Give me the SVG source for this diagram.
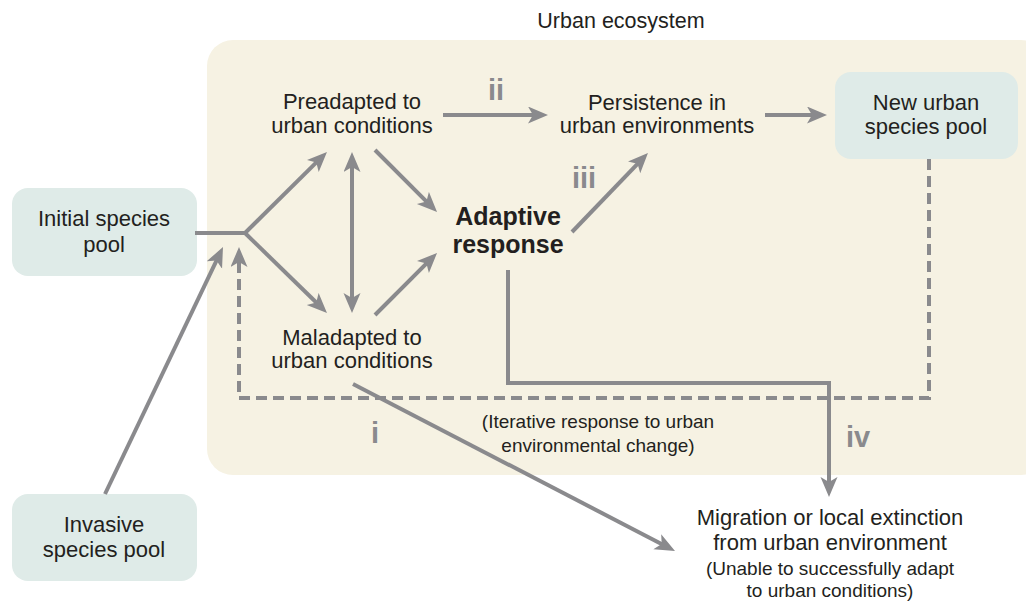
<svg xmlns="http://www.w3.org/2000/svg" width="1026" height="601" viewBox="0 0 1026 601">
<style>
text{font-family:"Liberation Sans",Arial,sans-serif;fill:#231f20;text-anchor:middle}
.lbl{font-size:22px}
.sm{font-size:19px}
.bold{font-size:25px;font-weight:bold}
.num{font-size:29px;font-weight:bold;fill:#8a8a8d}
.pool{fill:#dfebe8}
.ln{fill:none;stroke:#8a8a8d;stroke-width:4}
.dash{stroke-dasharray:11 6}
</style>
<defs>
<marker id="ah" markerUnits="userSpaceOnUse" markerWidth="22" markerHeight="18" refX="14" refY="8.5" orient="auto-start-reverse" viewBox="0 0 22 18">
<path d="M0,0 L20,8.5 L0,17 L5,8.5 z" fill="#8a8a8d"/>
</marker>
</defs>
<rect x="207" y="40" width="840" height="435" rx="26" fill="#f6f2e3"/>
<text x="621" y="28" style="font-size:21.5px">Urban ecosystem</text>

<g id="initial"><rect class="pool" x="12" y="188" width="185" height="88" rx="16"/><text class="lbl" x="104" y="226">Initial species</text><text class="lbl" x="104" y="252">pool</text></g>
<g id="invasive"><rect class="pool" x="12" y="494" width="185" height="87" rx="16"/><text class="lbl" x="104" y="532">Invasive</text><text class="lbl" x="104" y="557">species pool</text></g>
<g id="newpool"><rect class="pool" x="835" y="72" width="183" height="87" rx="16"/><text class="lbl" x="926" y="110">New urban</text><text class="lbl" x="926" y="134">species pool</text></g>
<g id="preadapted"><text class="lbl" x="352" y="109">Preadapted to</text><text class="lbl" x="352" y="133">urban conditions</text></g>
<g id="maladapted"><text class="lbl" x="352" y="345">Maladapted to</text><text class="lbl" x="352" y="368">urban conditions</text></g>
<g id="persistence"><text class="lbl" x="657" y="110">Persistence in</text><text class="lbl" x="657" y="133">urban environments</text></g>
<g id="adaptive"><text class="bold" x="508" y="225">Adaptive</text><text class="bold" x="508" y="253">response</text></g>
<g id="migration"><text class="lbl" x="830" y="525">Migration or local extinction</text><text class="lbl" x="830" y="550">from urban environment</text><text class="sm" x="830" y="575">(Unable to successfully adapt</text><text class="sm" x="830" y="597">to urban conditions)</text></g>

<g id="connectors">
<path class="ln" d="M195,233 H245"/>
<path class="ln" d="M245,233 L322.7,156.2" marker-end="url(#ah)"/>
<path class="ln" d="M245,233 L322.7,308.8" marker-end="url(#ah)"/>
<path class="ln" d="M352,158 V307" marker-start="url(#ah)" marker-end="url(#ah)"/>
<path class="ln" d="M375,150 L432.8,207.8" marker-end="url(#ah)"/>
<path class="ln" d="M375,315 L432.8,257.2" marker-end="url(#ah)"/>
<path class="ln" d="M443,115 H542" marker-end="url(#ah)"/>
<path class="ln" d="M765,115 H821" marker-end="url(#ah)"/>
<path class="ln" d="M572,232 L643.8,157.3" marker-end="url(#ah)"/>
<path class="ln" d="M105,494 L220.4,252.4" marker-end="url(#ah)"/>
<path class="ln dash" d="M929,159 V398 H239 V253" marker-end="url(#ah)"/>
<path class="ln" d="M508,270 V383 H829 V491" marker-end="url(#ah)"/>
<path class="ln" d="M353,384 L669.7,548.2" marker-end="url(#ah)"/>
<text class="num" x="496" y="100">ii</text>
<text class="num" x="584" y="188">iii</text>
<text class="num" x="375" y="443">i</text>
<text class="num" x="858" y="447">iv</text>
<text class="sm" x="598" y="428">(Iterative response to urban</text>
<text class="sm" x="598" y="452">environmental change)</text>
</g>
</svg>
